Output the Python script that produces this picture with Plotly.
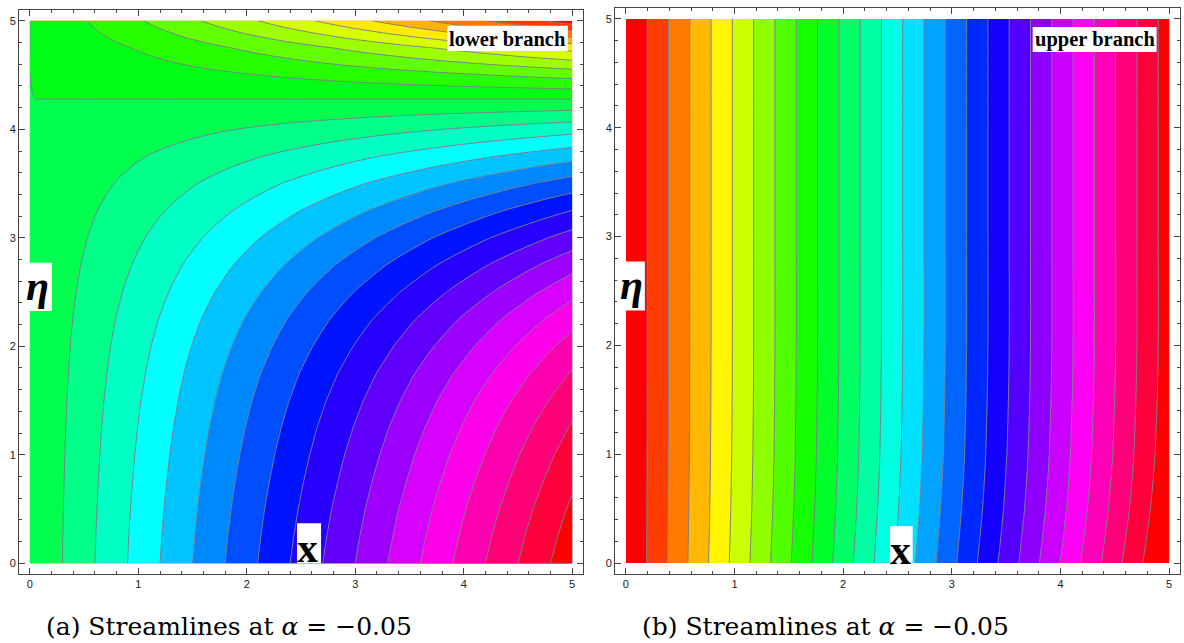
import numpy as np
import plotly.graph_objects as go

# ---------------- data ----------------
# x positions of the grid (both panels)
x_grid = [round(0.05 * i, 3) for i in range(101)]

# Panel (a), lower branch: stream function psi = x * g(eta)
eta_a = [0.0, 0.25, 0.5, 0.75, 1.0, 1.25, 1.5, 1.75, 2.0, 2.25, 2.5, 2.75,
         3.0, 3.25, 3.5, 3.75, 4.0, 4.25, 4.5, 4.75, 5.0]
g_a = [1.0, 0.986, 0.97, 0.951, 0.93, 0.906, 0.878, 0.845, 0.805, 0.759,
       0.703, 0.639, 0.565, 0.481, 0.388, 0.28, 0.158, 0.018, -0.141,
       -0.322, -0.57]

# Panel (b), upper branch: stream function psi = x * h(eta)
eta_b = [0.0, 0.25, 0.5, 0.75, 1.0, 1.25, 1.5, 2.0, 3.0, 4.0, 5.0]
h_b = [1.030, 1.022, 1.015, 1.010, 1.006, 1.004, 1.002, 1.0, 1.0, 1.0, 1.0]

# contour levels
levels_a = dict(start=-2.7, end=4.8, size=0.3)
levels_b = dict(start=0.196, end=4.9, size=0.196)

tick_vals = [0, 1, 2, 3, 4, 5]
caption_a = "(a) Streamlines at <i>α</i> = −0.05"
caption_b = "(b) Streamlines at <i>α</i> = −0.05"
label_a = "lower branch"
label_b = "upper branch"

# ---------------- figure ----------------
z_a = np.outer(np.array(g_a), np.array(x_grid))
z_b = np.outer(np.array(h_b), np.array(x_grid))

hue_scale = [[0, 'rgb(255,0,0)'], [1/6, 'rgb(255,255,0)'], [2/6, 'rgb(0,255,0)'],
             [3/6, 'rgb(0,255,255)'], [4/6, 'rgb(0,0,255)'], [5/6, 'rgb(255,0,255)'],
             [1, 'rgb(255,0,0)']]

line_style = dict(color='rgba(125,125,140,0.95)', width=1, smoothing=1.0)

fig = go.Figure()
fig.add_trace(go.Contour(x=x_grid, y=eta_a, z=z_a, colorscale=hue_scale, showscale=False,
                         contours=dict(coloring='fill', **levels_a), line=line_style,
                         xaxis='x', yaxis='y', hoverinfo='skip'))
fig.add_trace(go.Contour(x=x_grid, y=eta_b, z=z_b, colorscale=hue_scale, showscale=False,
                         contours=dict(coloring='fill', **levels_b), line=line_style,
                         xaxis='x2', yaxis='y2', hoverinfo='skip'))

W, H = 1184, 643
frame = '#444444'
ax_common = dict(range=[-0.1, 5.1], showgrid=False, zeroline=False, showline=True,
                 linecolor=frame, linewidth=1, mirror='ticks', ticks='inside',
                 ticklen=6, tickwidth=1, tickcolor=frame, tickvals=tick_vals,
                 minor=dict(ticks='inside', ticklen=3, dtick=0.2, tick0=0,
                            tickcolor=frame, showgrid=False),
                 tickfont=dict(family='Liberation Sans', size=11, color='#222'),
                 fixedrange=True)

fig.update_layout(
    width=W, height=H, autosize=False,
    margin=dict(l=0, r=0, t=0, b=0),
    paper_bgcolor='white', plot_bgcolor='white', showlegend=False,
    xaxis=dict(domain=[19 / W, 583 / W], anchor='y', **ax_common),
    yaxis=dict(domain=[69 / H, 633 / H], anchor='x', **ax_common),
    xaxis2=dict(domain=[615 / W, 1180 / W], anchor='y2', **ax_common),
    yaxis2=dict(domain=[69 / H, 635 / H], anchor='x2', **ax_common),
)

shapes = []
annots = []


def box(xr, yr, x0, x1, y0, y1):
    shapes.append(dict(type='rect', xref=xr, yref=yr, x0=x0, x1=x1, y0=y0, y1=y1,
                       fillcolor='white', line=dict(width=0), layer='above'))


def txt(xr, yr, x, y, text, size, family='Liberation Serif', xanchor='center', yanchor='middle'):
    annots.append(dict(xref=xr, yref=yr, x=x, y=y, text=text, showarrow=False,
                       xanchor=xanchor, yanchor=yanchor,
                       font=dict(family=family, size=size, color='black')))


# panel (a) labels
box('x', 'y', -0.028, 0.203, 2.325, 2.77)
txt('x', 'y', 0.075, 2.555, "<b><i>η</i></b>", 42)
box('x', 'y', 2.463, 2.685, 0.0, 0.369)
txt('x', 'y', 2.56, 0.138, "<b>x</b>", 42)
box('x', 'y', 3.85, 4.96, 4.723, 4.954)
txt('x', 'y', 4.405, 4.834, "<b>%s</b>" % label_a, 20.5)

# panel (b) labels
box('x2', 'y2', -0.08, 0.175, 2.32, 2.77)
txt('x2', 'y2', 0.05, 2.555, "<b><i>η</i></b>", 42)
box('x2', 'y2', 2.43, 2.64, 0.0, 0.34)
txt('x2', 'y2', 2.525, 0.125, "<b>x</b>", 42)
box('x2', 'y2', 3.744, 4.885, 4.695, 4.925)
txt('x2', 'y2', 4.315, 4.81, "<b>%s</b>" % label_b, 20.5)

# captions
cap_y = (H - 626) / H
cf = 'DejaVu Serif'
cs = 25
txt('paper', 'paper', 228.5 / W, cap_y, caption_a, cs, family=cf)
txt('paper', 'paper', 825 / W, cap_y, caption_b, cs, family=cf)

fig.update_layout(shapes=shapes, annotations=annots)
fig.write_html("out.html")
